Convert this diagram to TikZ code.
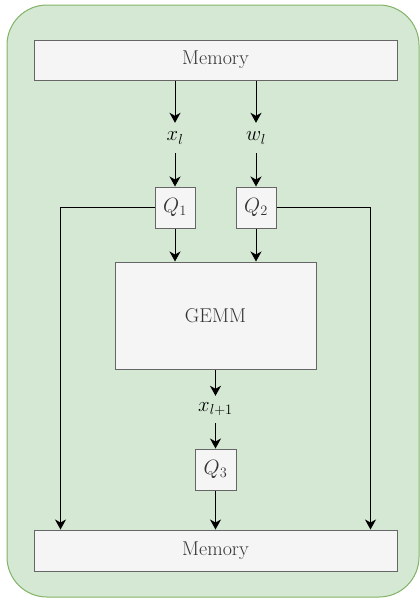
\documentclass[tikz,border=0pt]{standalone}
\usetikzlibrary{positioning,arrows.meta}
\definecolor{memFill}{HTML}{F5F5F5}
\definecolor{memDraw}{HTML}{666666}
\definecolor{bgFill}{HTML}{D5E8D4}
\definecolor{bgDraw}{HTML}{82B366}
\definecolor{txtGray}{HTML}{333333}

\begin{document}
\begin{tikzpicture}[x=1pt,y=-1pt,font=\fontsize{20}{24}\selectfont,
        box/.style={draw=memDraw,line width=1pt,fill=memFill,text=txtGray,
                    inner sep=0pt,align=center},
        lbl/.style={inner sep=0pt,minimum height=30pt},
        arr/.style={-{Stealth[length=10pt,width=11pt,inset=3pt]},line width=1pt,black}]
        \useasboundingbox (0,0) rectangle (420,598);
        \draw[bgDraw,fill=bgFill,line width=1pt,rounded corners=40pt] (7,5) rectangle (419,597);
        % memory, inputs, quantizers
        \node[box,minimum width=363pt,minimum height=40pt] (memtop) at (215.5,60) {Memory};
        \node[lbl] (xl) at (175,138) {$x_l$};
        \node[lbl] (wl) at (256,138) {$w_l$};
        \node[box,minimum width=40pt,minimum height=41pt] (q1) at (175,207.5) {$Q_1$};
        \node[box,minimum width=40pt,minimum height=41pt] (q2) at (256,207.5) {$Q_2$};
        \node[box,minimum width=201pt,minimum height=107pt] (gemm) at (215.5,315.5) {GEMM};
        \node[lbl,minimum height=27pt] (xl1) at (215.5,409.5) {$x_{l+1}$};
        \node[box,minimum width=41pt,minimum height=41pt] (q3) at (215.5,469.5) {$Q_3$};
        \node[box,minimum width=363pt,minimum height=41pt] (membot) at (215.5,550.5) {Memory};
        % connectors
        \draw[arr] (xl |- memtop.south) -- (xl.north);
        \draw[arr] (wl |- memtop.south) -- (wl.north);
        \draw[arr] (xl.south) -- (q1.north);
        \draw[arr] (wl.south) -- (q2.north);
        \draw[arr] (q1.south) -- (q1 |- gemm.north);
        \draw[arr] (q2.south) -- (q2 |- gemm.north);
        \draw[arr] (xl1 |- gemm.south) -- (xl1.north);
        \draw[arr] (xl1.south) -- (q3.north);
        \draw[arr] (q3.south) -- (q3 |- membot.north);
        \draw[arr] (q1.west) -| ([xshift=27pt]membot.north west);
        \draw[arr] (q2.east) -| ([xshift=-27pt]membot.north east);
      \end{tikzpicture}
\end{document}
